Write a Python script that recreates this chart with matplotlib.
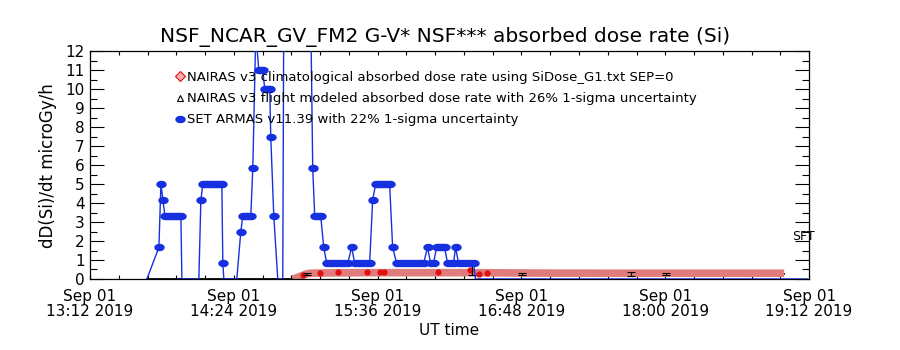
import numpy as np
import matplotlib
matplotlib.use("Agg")
import matplotlib.pyplot as plt
from matplotlib.path import Path
from matplotlib.lines import Line2D

# minutes after 2019-09-01 13:12 UT
tick_minutes = [0, 72, 144, 216, 288, 360]
tick_labels = ["Sep 01\n13:12 2019", "Sep 01\n14:24 2019", "Sep 01\n15:36 2019",
               "Sep 01\n16:48 2019", "Sep 01\n18:00 2019", "Sep 01\n19:12 2019"]

# SET ARMAS v11.39 (blue), values above 12 are off scale
set_t = [28.5, 34.5, 35.5, 36.5, 37.5, 38.5, 39.5, 40.5, 41.5, 42.5, 43.5, 44.5, 45.5, 46,
         54.5, 55.5, 56.5, 57.5, 58.5, 59.5, 60.5, 61.5, 62.5, 63.5, 64.5, 65.5, 66, 66.5, 67,
         73.5, 75.5, 76.5, 77.5, 78.5, 79.5, 80.5, 81.5, 83, 84.5, 85.5, 86.5, 87.5, 88.5,
         89.5, 90, 90.5, 92, 94,
         96.5, 97, 110.5, 111.5, 112.5, 113.5, 114.5, 115.5, 117,
         118.5, 120, 121.5, 123, 124.5, 126, 127.5, 129, 131, 132.5, 134, 135.5, 137, 138.5,
         140, 141.5, 143, 144, 145, 146, 147, 148, 149, 150, 151.5,
         153.5, 155, 156.5, 158, 159.5, 161, 162.5, 164, 165.5, 167, 169,
         170.5, 172, 173.5, 174.5, 175.5, 176.5, 177.5, 179, 180.5, 182, 183,
         184.5, 186, 187.5, 189, 190.5, 192, 193, 359]
set_v = [0, 1.67, 5.0, 4.17, 3.33, 3.33, 3.33, 3.33, 3.33, 3.33, 3.33, 3.33, 3.33, 0,
         0, 4.17, 5.0, 5.0, 5.0, 5.0, 5.0, 5.0, 5.0, 5.0, 5.0, 5.0, 5.0, 0.83, 0,
         0, 2.5, 3.33, 3.33, 3.33, 3.33, 3.33, 5.83, 13.0, 11.0, 11.0, 11.0, 10.0, 10.0,
         10.0, 10.0, 7.5, 3.33, 0,
         0, 14.0, 14.0, 5.83, 3.33, 3.33, 3.33, 3.33, 1.67,
         0.83, 0.83, 0.83, 0.83, 0.83, 0.83, 0.83, 0.83, 1.67, 0.83, 0.83, 0.83, 0.83, 0.83,
         0.83, 4.17, 5.0, 5.0, 5.0, 5.0, 5.0, 5.0, 5.0, 5.0, 1.67,
         0.83, 0.83, 0.83, 0.83, 0.83, 0.83, 0.83, 0.83, 0.83, 0.83, 1.67,
         0.83, 0.83, 1.67, 1.67, 1.67, 1.67, 1.67, 0.83, 0.83, 0.83, 1.67,
         0.83, 0.83, 0.83, 0.83, 0.83, 0.83, 0, 0]

# NAIRAS v3 climatological (red)
clim_t = [101.5, 104, 106, 108, 110, 120, 140, 160, 190, 220, 260, 300, 347.5]
clim_v = [0, 0.08, 0.17, 0.25, 0.3, 0.32, 0.33, 0.33, 0.33, 0.31, 0.3, 0.3, 0.3]
clim_dot_t = [106.5, 115, 124, 138.5, 145, 147, 174, 190, 194.5, 198.5]
clim_dot_v = [0.2, 0.3, 0.37, 0.37, 0.37, 0.37, 0.37, 0.47, 0.26, 0.31]

# NAIRAS v3 flight modeled (black)
flight_t = [28.5, 106, 107, 112, 200, 347.5]
flight_v = [0, 0, 0.25, 0.27, 0.27, 0.27]
flight_err_t = [108.5, 191, 216.5, 271, 288.5]
flight_err_v = [0.27, 0.58, 0.27, 0.27, 0.27]
flight_err_e = [0.05, 0.38, 0.05, 0.1, 0.04]

blue = "#1630e0"
red = "#e01010"

# flattened filled circle for the SET ARMAS points
ang = np.linspace(0, 2 * np.pi, 40)
ellipse = Path(np.column_stack([1.5 * np.cos(ang), np.sin(ang)]), closed=True)

fig = plt.figure(figsize=(9, 3.5), dpi=100)
ax = fig.add_axes([0.1, 0.203, 0.799, 0.65])

set_t = np.array(set_t)
set_v = np.array(set_v)
nonzero = set_v > 0
ax.plot(set_t, set_v, color=blue, lw=1.0, zorder=3)
ax.plot(set_t[nonzero], set_v[nonzero], ls="none", marker=ellipse, ms=6.5,
        mec=blue, mfc=blue, zorder=3)
ax.plot(clim_t, clim_v, color="#e07c7c", lw=5.5, solid_capstyle="butt", zorder=2)
ax.plot(clim_dot_t, clim_dot_v, ls="none", marker="o", ms=3.5, color=red, zorder=2.5)
ax.plot(flight_t, flight_v, color="black", lw=1.2, zorder=1.5)
ax.errorbar(flight_err_t, flight_err_v, yerr=flight_err_e, fmt="none", ecolor="black",
            elinewidth=0.8, capsize=3, capthick=0.8, zorder=2.6)

ax.set_xlim(0, 360)
ax.set_ylim(0, 12)
ax.set_xticks(tick_minutes)
ax.set_xticklabels(tick_labels, fontsize=11, linespacing=1.0)
ax.set_xticks(np.arange(0, 361, 14.4), minor=True)
ax.set_yticks(range(13))
ax.set_yticks(np.arange(0, 12.01, 0.5), minor=True)
ax.tick_params(axis="x", which="both", direction="in", length=3, top=True, pad=7, width=0.8)
ax.tick_params(axis="y", which="major", direction="in", length=10, right=True, labelsize=11, pad=4, width=0.8)
ax.tick_params(axis="y", which="minor", direction="in", length=5, right=True, width=0.8)
for s in ax.spines.values():
    s.set_linewidth(0.9)

ax.set_xlabel("UT time", fontsize=11, labelpad=3)
ax.set_ylabel("dD(Si)/dt microGy/h", fontsize=12, labelpad=6)
fig.text(445 / 900, 1 - 37 / 350, "NSF_NCAR_GV_FM2 G-V* NSF*** absorbed dose rate (Si)",
         ha="center", va="center", fontsize=14.5)
fig.text(792 / 900, 1 - 237 / 350, "SFT", ha="left", va="center", fontsize=9)

handles = [
    Line2D([], [], ls="none", marker="D", ms=5, mfc="#f0b0b0", mec=red, mew=0.8),
    Line2D([], [], ls="none", marker="^", ms=5, mfc="white", mec="black", mew=0.8),
    Line2D([], [], ls="none", marker=ellipse, ms=6.5, mfc=blue, mec=blue),
]
labels = ["NAIRAS v3 climatological absorbed dose rate using SiDose_G1.txt SEP=0",
          "NAIRAS v3 flight modeled absorbed dose rate with 26% 1-sigma uncertainty",
          "SET ARMAS v11.39 with 22% 1-sigma uncertainty"]
ax.legend(handles, labels, loc="upper left", bbox_to_anchor=(177 / 900, 1 - 71 / 350),
          bbox_transform=fig.transFigure, frameon=False, fontsize=9.5, handlelength=0.5,
          handletextpad=0.25, labelspacing=0.62, borderpad=0, borderaxespad=0)

fig.savefig("out.png", dpi=100)
